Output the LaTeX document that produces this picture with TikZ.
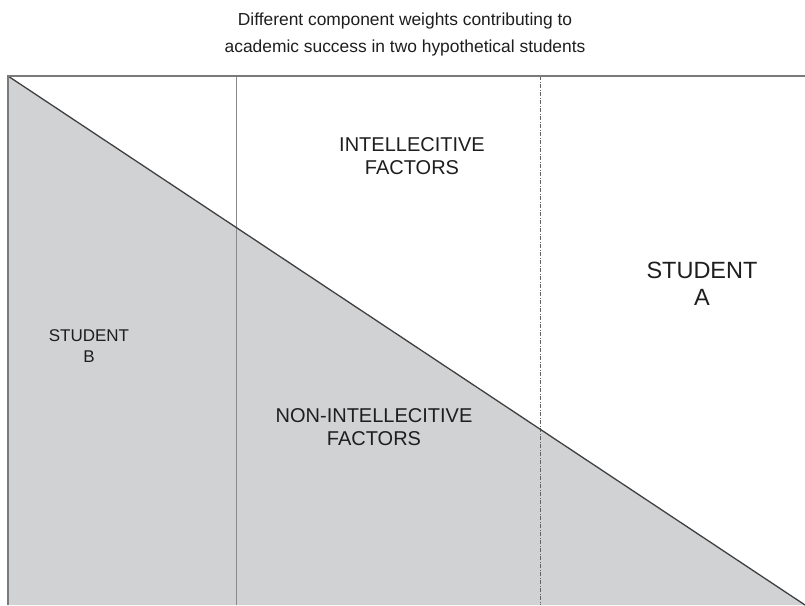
\documentclass[tikz,border=0pt]{standalone}
\usepackage{fontspec}
\setmainfont{Liberation Sans}
\usepackage{xcolor}
\usetikzlibrary{calc}
\definecolor{ink}{HTML}{1E1E1E}
\definecolor{frame}{HTML}{7A7A7A}
\definecolor{greyfill}{HTML}{D1D2D4}
\definecolor{divider}{HTML}{8A8A8A}
\tikzset{
  border/.style={draw=frame, line width=2pt},
  diag/.style={draw=ink!85, line width=1.3pt},
  split/.style={draw=divider, line width=0.9pt},
  splitdash/.style={draw=ink!70, line width=0.9pt,
                    dash pattern=on 4pt off 1.5pt on 1pt off 1.5pt},
  caption/.style={align=center, text=ink, font=\fontsize{17.4}{27}\selectfont},
  region/.style={align=center, text=ink, font=\fontsize{20}{23}\selectfont},
  who/.style={align=center, text=ink, font=\fontsize{17}{21}\selectfont},
}
\begin{document}
\begin{tikzpicture}[x=1pt, y=-1pt]
\useasboundingbox (0,0) rectangle (805,605);
\coordinate (tl) at (8,76);
\coordinate (tr) at (805,76);
\coordinate (bl) at (8,605);
\coordinate (br) at (805,605);
\coordinate (s1) at (236,76);
\coordinate (s1b) at (236,605);
\coordinate (s2) at (540,76);
\coordinate (s2b) at (540,605);

% shaded share of the non-intellective part
\fill[greyfill] (tl) -- (br) -- (bl) -- cycle;
\draw[split] (s1) -- (s1b);
\draw[splitdash] (s2) -- (s2b);
\draw[diag] (tl) -- (br);
\draw[border] (bl) -- (tl) -- (tr);

\node[caption] (title) at (405,35) {Different component weights contributing to\\academic success in two hypothetical students};
\node[region] (intel) at (412,156) {INTELLECITIVE\\FACTORS};
\node[region] (nonintel) at (374,427) {NON-INTELLECITIVE\\FACTORS};
\node[who] (stub) at (89,346) {STUDENT\\B};
\node[who, font=\fontsize{23.5}{27}\selectfont] (stua) at (702,284) {STUDENT\\A};
\end{tikzpicture}
\end{document}
